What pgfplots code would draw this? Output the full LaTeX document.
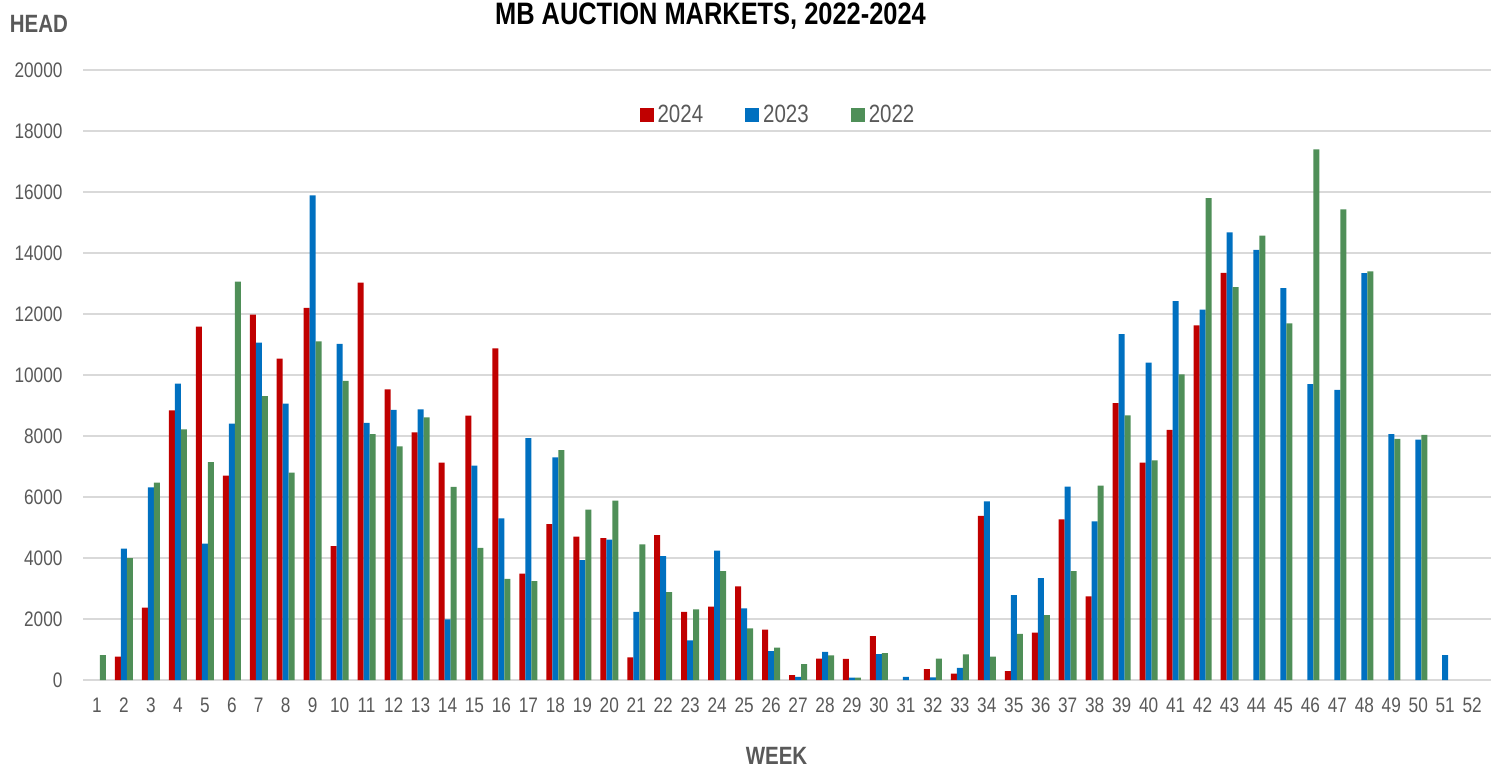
\documentclass[border=0pt]{standalone}
\usepackage{fontspec}
\setmainfont{Liberation Sans}
\newfontfamily\nar[FakeStretch=0.82]{Liberation Sans}
\usepackage{pgfplots}
\pgfplotsset{compat=1.18}
\definecolor{c24}{RGB}{192,0,0}
\definecolor{c23}{RGB}{0,112,192}
\definecolor{c22}{RGB}{79,143,88}
\definecolor{txt}{RGB}{89,89,89}
\definecolor{grd}{RGB}{217,217,217}
\begin{document}
\begin{tikzpicture}
\useasboundingbox (-41.75pt,-44pt) rectangle (703.75pt,340pt);
\begin{axis}[
  at={(0pt,0pt)}, anchor=south west,
  scale only axis, width=703.5pt, height=305pt,
  xmin=0.5, xmax=52.68, ymin=0, ymax=20000,
  ybar=0pt, bar width=3pt,
  xtick={1,...,52}, ytick={0,2000,...,20000},
  scaled y ticks=false,
  major tick length=0pt,
  axis x line*=bottom, axis y line*=left,
  y axis line style={draw=none},
  x axis line style={draw=grd, line width=0.8pt},
  ymajorgrids, grid style={draw=grd, line width=0.75pt},
  /pgf/number format/assume math mode=true,
  /pgf/number format/set thousands separator={},
  tick label style={font=\nar\fontsize{10.5}{12}\selectfont, text=txt},
  yticklabel style={xshift=-7pt},
  xticklabel style={yshift=-5.5pt},
  legend style={at={(axis description cs:0.4943,0.926)}, anchor=center, draw=none, fill=none,
    legend columns=3, font=\nar\fontsize{12.5}{14}\selectfont, text=txt,
    /tikz/every even column/.append style={column sep=19pt}},
  legend image code/.code={\fill[#1] (0pt,-3.5pt) rectangle (7pt,3.5pt);},
]
\addplot[fill=c24, draw=none] coordinates {
(2,770) (3,2370) (4,8840) (5,11590) (6,6700) (7,11980) (8,10540) (9,12200) (10,4390)
(11,13030) (12,9530) (13,8120) (14,7130) (15,8670) (16,10870) (17,3490) (18,5110) (19,4700) (20,4650)
(21,740) (22,4750) (23,2230) (24,2410) (25,3070) (26,1650) (27,160) (28,700) (29,690) (30,1440)
(32,360) (33,210) (34,5380) (35,290) (36,1550) (37,5270) (38,2740) (39,9080) (40,7130)
(41,8200) (42,11630) (43,13350)
};
\addplot[fill=c23, draw=none] coordinates {
(2,4310) (3,6320) (4,9720) (5,4470) (6,8410) (7,11060) (8,9060) (9,15890) (10,11020)
(11,8430) (12,8860) (13,8870) (14,1990) (15,7030) (16,5300) (17,7930) (18,7300) (19,3930) (20,4600)
(21,2230) (22,4060) (23,1300) (24,4240) (25,2350) (26,950) (27,100) (28,920) (29,80) (30,850)
(31,100) (32,90) (33,400) (34,5860) (35,2780) (36,3340) (37,6340) (38,5200) (39,11340) (40,10410)
(41,12420) (42,12140) (43,14680) (44,14100) (45,12850) (46,9700) (47,9510) (48,13340) (49,8060) (50,7880)
(51,820)
};
\addplot[fill=c22, draw=none] coordinates {
(1,820) (2,4000) (3,6470) (4,8220) (5,7140) (6,13060) (7,9310) (8,6800) (9,11100) (10,9810)
(11,8060) (12,7660) (13,8610) (14,6330) (15,4330) (16,3320) (17,3240) (18,7540) (19,5590) (20,5880)
(21,4450) (22,2880) (23,2320) (24,3570) (25,1690) (26,1060) (27,520) (28,810) (29,80) (30,880)
(32,700) (33,840) (34,770) (35,1510) (36,2130) (37,3570) (38,6370) (39,8675) (40,7200)
(41,10020) (42,15800) (43,12880) (44,14570) (45,11690) (46,17400) (47,15430) (48,13400) (49,7910) (50,8040)
};
\legend{2024,2023,2022}
\end{axis}
\node[anchor=base, font=\nar\bfseries\fontsize{15.5}{17}\selectfont] at (313.5pt,328pt) {MB AUCTION MARKETS, 2022-2024};
\node[anchor=base west, inner sep=0pt, font=\nar\bfseries\fontsize{12.5}{14}\selectfont, text=txt] at (-37pt,324pt) {HEAD};
\node[anchor=base, inner sep=0pt, font=\nar\bfseries\fontsize{12.5}{14}\selectfont, text=txt] at (346.5pt,-42pt) {WEEK};
\end{tikzpicture}
\end{document}
